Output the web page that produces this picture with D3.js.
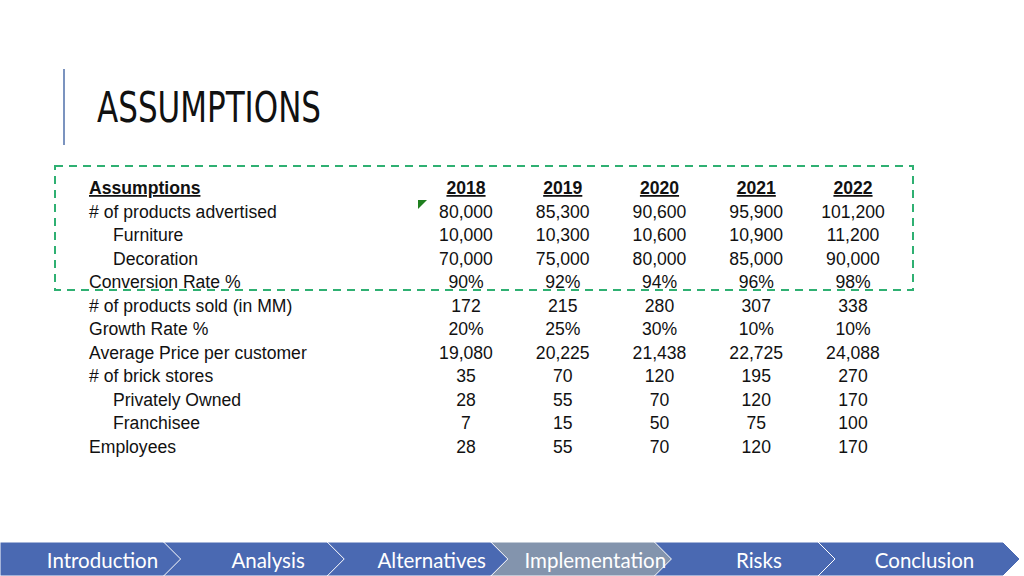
<!DOCTYPE html>
<html>
<head>
<meta charset="utf-8">
<script src="https://cdn.jsdelivr.net/npm/d3@7"></script>
<style>
  html, body { margin: 0; padding: 0; background: #fff; }
  svg { display: block; }
</style>
</head>
<body>
<svg width="1024" height="576"></svg>
<script>
// table data
var years = ["2018", "2019", "2020", "2021", "2022"]
var rowLabels = ["# of products advertised", "Furniture", "Decoration", "Conversion Rate %",
                 "# of products sold (in MM)", "Growth Rate %", "Average Price per customer",
                 "# of brick stores", "Privately Owned", "Franchisee", "Employees"]
var subRows = ["Furniture", "Decoration", "Privately Owned", "Franchisee"]
var percentRows = ["Conversion Rate %", "Growth Rate %"]

var advertised = [80000, 85300, 90600, 95900, 101200]
var furniture = [10000, 10300, 10600, 10900, 11200]
var decoration = [70000, 75000, 80000, 85000, 90000]
var conversionRate = [0.90, 0.92, 0.94, 0.96, 0.98]
var productsSold = [172, 215, 280, 307, 338]
var growthRate = [0.20, 0.25, 0.30, 0.10, 0.10]
var avgPrice = [19080, 20225, 21438, 22725, 24088]
var brickStores = [35, 70, 120, 195, 270]
var privatelyOwned = [28, 55, 70, 120, 170]
var franchisee = [7, 15, 50, 75, 100]
var employees = [28, 55, 70, 120, 170]

var rowValues = [advertised, furniture, decoration, conversionRate, productsSold, growthRate,
                 avgPrice, brickStores, privatelyOwned, franchisee, employees]

var navItems = ["Introduction", "Analysis", "Alternatives", "Implementation", "Risks", "Conclusion"]
var activeNav = "Implementation"

var svg = d3.select("svg")

// title + side rule
svg.append("line")
   .attr("x1", 64).attr("x2", 64)
   .attr("y1", 69).attr("y2", 145)
   .style("stroke", "#7b93bf")
   .style("stroke-width", 2)

svg.append("text")
   .attr("x", 97)
   .attr("y", 122)
   .attr("textLength", 224)
   .attr("lengthAdjust", "spacingAndGlyphs")
   .style("font-family", "'Liberation Sans Narrow', 'DejaVu Sans Condensed', sans-serif")
   .style("font-size", "42px")
   .style("fill", "#111")
   .text("ASSUMPTIONS")

// table
var allRows = ["Assumptions"].concat(rowLabels)
var y = d3.scalePoint().domain(allRows).range([194, 453])
var x = d3.scalePoint().domain(years).range([466, 853])
var fmtNum = d3.format(",")
var fmtPct = d3.format(".0%")

var table = svg.append("g")
   .style("font-family", "'Liberation Sans', Arial, sans-serif")
   .style("font-size", "17.6px")
   .style("fill", "#111")

table.append("text")
   .attr("x", 89)
   .attr("y", y("Assumptions"))
   .style("font-weight", "bold")
   .style("text-decoration", "underline")
   .text("Assumptions")

table.selectAll(".year")
   .data(years)
   .enter().append("text")
   .attr("class", "year")
   .attr("x", d => x(d))
   .attr("y", y("Assumptions"))
   .attr("text-anchor", "middle")
   .style("font-weight", "bold")
   .style("text-decoration", "underline")
   .text(d => d)

table.selectAll(".rowlabel")
   .data(rowLabels)
   .enter().append("text")
   .attr("class", "rowlabel")
   .attr("x", d => subRows.includes(d) ? 113 : 89)
   .attr("y", d => y(d))
   .text(d => d)

rowLabels.forEach(function(label, i) {
    var fmt = percentRows.includes(label) ? fmtPct : fmtNum
    table.selectAll(".cell" + i)
       .data(rowValues[i])
       .enter().append("text")
       .attr("x", (d, j) => x(years[j]))
       .attr("y", y(label))
       .attr("text-anchor", "middle")
       .text(d => fmt(d))
})

// dashed highlight box
svg.append("rect")
   .attr("x", 55).attr("y", 166)
   .attr("width", 858).attr("height", 124)
   .style("fill", "none")
   .style("stroke", "#2fb072")
   .style("stroke-width", 2)
   .style("stroke-dasharray", "8,6")

// little comment marker
svg.append("path")
   .attr("d", "M418,200 L427,200 L418,209 Z")
   .style("fill", "#1f7f1f")

// bottom nav bar
var navX = d3.scalePoint().domain(navItems).range([0, 818])
var segW = 165, tip = 17, navTop = 542, navBot = 576, navMid = (navTop + navBot) / 2
var last = navItems.length - 1

var nav = svg.append("g")
nav.selectAll(".seg")
   .data(navItems)
   .enter().append("path")
   .attr("class", "seg")
   .attr("d", function(d, i) {
       var x0 = navX(d)
       var x1 = i == last ? 1003 : x0 + segW
       return "M" + x0 + "," + navTop + " L" + x1 + "," + navTop + " L" + (x1 + tip) + "," + navMid +
              " L" + x1 + "," + navBot + " L" + x0 + "," + navBot +
              (i == 0 ? "" : " L" + (x0 + tip) + "," + navMid) + " Z"
   })
   .style("fill", d => d == activeNav ? "#8394ad" : "#4a69b2")
   .style("stroke", "#ffffff")
   .style("stroke-width", 1)

nav.selectAll(".navtext")
   .data(navItems)
   .enter().append("text")
   .attr("class", "navtext")
   .attr("x", function(d, i) {
       var x1 = i == last ? 1003 : navX(d) + segW
       var off = i == 0 ? 20 : (i == last ? 14 : 22)
       return (navX(d) + x1) / 2 + off
   })
   .attr("y", 568)
   .attr("text-anchor", "middle")
   .style("font-family", "Lato, 'Open Sans', sans-serif")
   .style("font-size", "20.5px")
   .style("fill", "#ffffff")
   .text(d => d)
</script>
</body>
</html>
